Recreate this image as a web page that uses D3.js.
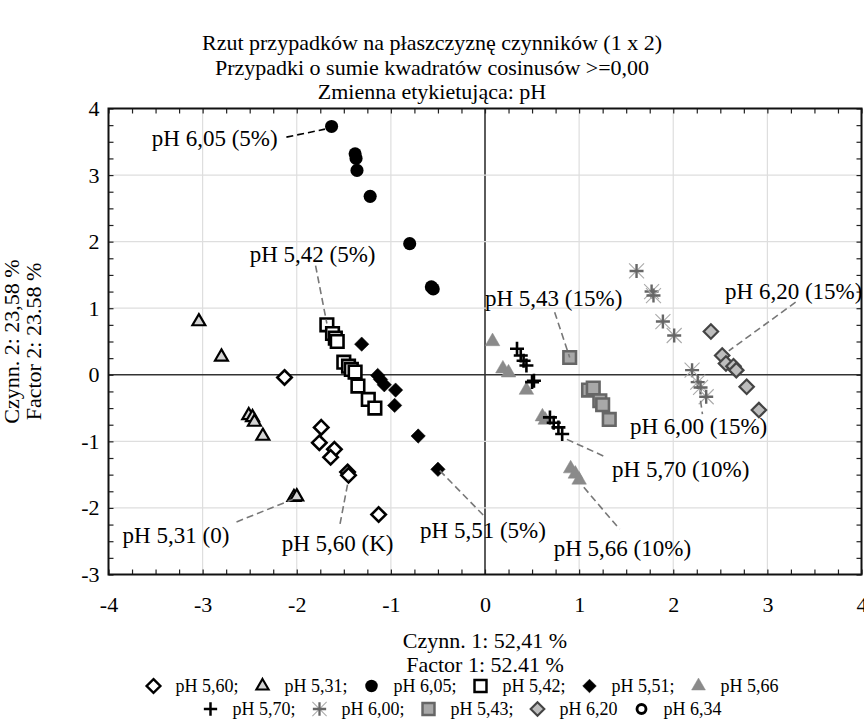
<!DOCTYPE html>
<html>
<head>
<meta charset="utf-8">
<script src="https://cdn.jsdelivr.net/npm/d3@7"></script>
<style>
  body { margin: 0; background: #fff; }
  svg text { font-family: "Liberation Serif", "Times New Roman", serif; fill: #000; }
</style>
</head>
<body>
<div class="chart"></div>
<script>
// factor scores: [factor 1, factor 2]
var ph560 = [[-2.13,-0.04],[-1.74,-0.79],[-1.76,-1.02],[-1.60,-1.12],[-1.64,-1.24],[-1.46,-1.46],[-1.45,-1.51],[-1.13,-2.10]];
var ph531 = [[-3.04,0.80],[-2.80,0.27],[-2.51,-0.61],[-2.47,-0.64],[-2.45,-0.71],[-2.36,-0.92],[-2.03,-1.84],[-2.00,-1.83]];
var ph605 = [[-1.63,3.73],[-1.38,3.32],[-1.37,3.25],[-1.36,3.07],[-1.22,2.68],[-0.80,1.97],[-0.57,1.32],[-0.55,1.29]];
var ph542 = [[-1.68,0.75],[-1.62,0.62],[-1.59,0.55],[-1.57,0.50],[-1.50,0.19],[-1.45,0.13],[-1.42,0.08],[-1.38,0.04],[-1.35,-0.17],[-1.24,-0.37],[-1.17,-0.50]];
var ph551 = [[-1.31,0.46],[-1.14,-0.01],[-1.11,-0.07],[-1.07,-0.15],[-0.95,-0.23],[-0.96,-0.46],[-0.71,-0.92],[-0.50,-1.42]];
var ph566 = [[0.08,0.50],[0.19,0.09],[0.25,0.03],[0.44,-0.23],[0.61,-0.63],[0.64,-0.68],[0.91,-1.41],[0.96,-1.49],[1.00,-1.58]];
var ph570 = [[0.34,0.39],[0.38,0.29],[0.41,0.21],[0.44,0.14],[0.50,-0.11],[0.52,-0.09],[0.69,-0.64],[0.73,-0.72],[0.78,-0.79],[0.82,-0.89]];
var ph600 = [[1.61,1.56],[1.77,1.25],[1.79,1.19],[1.89,0.80],[2.01,0.59],[2.20,0.07],[2.26,-0.11],[2.29,-0.19],[2.35,-0.33]];
var ph543 = [[0.90,0.26],[1.10,-0.23],[1.15,-0.20],[1.22,-0.39],[1.25,-0.45],[1.32,-0.67]];
var ph620 = [[2.40,0.65],[2.52,0.29],[2.56,0.17],[2.64,0.13],[2.67,0.07],[2.78,-0.18],[2.91,-0.53]];
var ph634 = [];

var seriesNames = ['pH 5,60', 'pH 5,31', 'pH 6,05', 'pH 5,42', 'pH 5,51', 'pH 5,66',
                   'pH 5,70', 'pH 6,00', 'pH 5,43', 'pH 6,20', 'pH 6,34'];
var seriesValues = [ph560, ph531, ph605, ph542, ph551, ph566, ph570, ph600, ph543, ph620, ph634];

var titleLines = ['Rzut przypadków na płaszczyznę czynników (1 x 2)',
                  'Przypadki o sumie kwadratów cosinusów >=0,00',
                  'Zmienna etykietująca: pH'];
var xTitle = ['Czynn. 1: 52,41 %', 'Factor 1: 52.41 %'];
var yTitle = ['Czynn. 2: 23,58 %', 'Factor 2: 23.58 %'];
var xTicks = d3.range(-4, 5),
    yTicks = d3.range(-3, 5);

// case labels, in factor units: text start, leader line from / to
var callouts = [
  { text: 'pH 6,05 (5%)',  at: [-3.54, 3.44],  from: [-2.11, 3.57],  to: [-1.70, 3.69], dark: true },
  { text: 'pH 5,42 (5%)',  at: [-2.50, 1.69],  from: [-1.80, 1.64],  to: [-1.68, 0.77] },
  { text: 'pH 5,31 (0)',   at: [-3.85, -2.52], from: [-2.64, -2.21], to: [-2.04, -1.87] },
  { text: 'pH 5,60 (K)',   at: [-2.16, -2.65], from: [-1.54, -2.24], to: [-1.45, -1.57] },
  { text: 'pH 5,51 (5%)',  at: [-0.69, -2.45], from: [-0.48, -1.44], to: [-0.01, -2.12] },
  { text: 'pH 5,66 (10%)', at: [0.73, -2.72],  from: [1.05, -1.69],  to: [1.43, -2.32] },
  { text: 'pH 5,70 (10%)', at: [1.35, -1.54],  from: [0.87, -0.97],  to: [1.29, -1.24] },
  { text: 'pH 6,00 (15%)', at: [1.54, -0.89],  from: [2.29, -0.39],  to: [2.31, -0.59] },
  { text: 'pH 5,43 (15%)', at: [0.00, 1.04],   from: [0.74, 0.94],   to: [0.90, 0.26] },
  { text: 'pH 6,20 (15%)', at: [2.55, 1.14],   from: [3.30, 1.09],   to: [2.59, 0.36] }
];

function init() {
  var width = 864,
      height = 727,
      plot = { x1: 108.5, y1: 108.5, x2: 861.5, y2: 574.5 },
      fontSize = 22,
      labelSize = 23;

  var x = d3.scaleLinear().domain([-4, 4]).range([plot.x1, plot.x2]),
      y = d3.scaleLinear().domain([-3, 4]).range([plot.y2, plot.y1]);

  // marker look for each series, same order as seriesNames
  var markers = [
    { shape: 'diamond',  fill: '#fff',    stroke: '#000',    sw: 2.6 },
    { shape: 'triangle', fill: '#d3d3d3', stroke: '#000',    sw: 2.2 },
    { shape: 'circle',   fill: '#000',    stroke: '#000',    sw: 0 },
    { shape: 'square',   fill: '#fff',    stroke: '#000',    sw: 2.6 },
    { shape: 'diamond',  fill: '#000',    stroke: '#000',    sw: 0.5 },
    { shape: 'triangle2', fill: '#8a8a8a', stroke: '#8a8a8a', sw: 0.5 },
    { shape: 'plus',     fill: 'none',    stroke: '#000',    sw: 2.6 },
    { shape: 'star',     fill: 'none',    stroke: '#666',    sw: 2.4 },
    { shape: 'square',   fill: '#a8a8a8', stroke: '#666',    sw: 2.6 },
    { shape: 'diamond',  fill: '#bdbdbd', stroke: '#444',    sw: 2.2 },
    { shape: 'ring',     fill: '#fff',    stroke: '#000',    sw: 3 }
  ];

  function symbolPath(shape) {
    if (shape === 'diamond') return 'M0,-7.2L7.2,0L0,7.2L-7.2,0Z';
    if (shape === 'triangle') return d3.symbol(d3.symbolTriangle, 72)();
    if (shape === 'triangle2') return d3.symbol(d3.symbolTriangle, 92)();
    if (shape === 'circle') return d3.symbol(d3.symbolCircle, 135)();
    if (shape === 'square') return 'M-6.3,-6.3H6.3V6.3H-6.3Z';
    if (shape === 'plus' || shape === 'star') return 'M-7,0H7M0,-7V7';
    if (shape === 'ring') return d3.symbol(d3.symbolCircle, 70)();
  }

  function drawMarker(sel, m) {
    if (m.shape === 'star') {
      sel.append('path')
          .attr('d', 'M-7.5,-7.5L7.5,7.5M-7.5,7.5L7.5,-7.5')
          .attr('fill', 'none')
          .attr('stroke', '#aaa')
          .attr('stroke-width', 1.1);
    }
    sel.append('path')
        .attr('d', symbolPath(m.shape))
        .attr('fill', m.fill)
        .attr('stroke', m.stroke)
        .attr('stroke-width', m.sw);
  }

  var svg = d3.select('.chart')
    .append('svg')
      .attr('width', width)
      .attr('height', height);

  svg.append('rect')
      .attr('width', width)
      .attr('height', height)
      .attr('fill', '#fff');

  // titles
  svg.selectAll('text.title').data(titleLines)
    .enter()
      .append('text')
        .attr('class', 'title')
        .attr('x', width / 2)
        .attr('y', function(d, i) { return 50 + i * 24.5; })
        .attr('text-anchor', 'middle')
        .style('font-size', fontSize + 'px')
        .text(function(d) { return d; });

  // grid
  svg.selectAll('line.gx').data(xTicks.slice(1, -1))
    .enter()
      .append('line')
        .attr('class', 'gx')
        .attr('x1', function(d) { return x(d); })
        .attr('x2', function(d) { return x(d); })
        .attr('y1', plot.y1)
        .attr('y2', plot.y2)
        .attr('stroke', function(d) { return d === 0 ? '#333' : '#dedede'; })
        .attr('stroke-width', function(d) { return d === 0 ? 1.6 : 1.2; });

  svg.selectAll('line.gy').data(yTicks.slice(1, -1))
    .enter()
      .append('line')
        .attr('class', 'gy')
        .attr('y1', function(d) { return y(d); })
        .attr('y2', function(d) { return y(d); })
        .attr('x1', plot.x1)
        .attr('x2', plot.x2)
        .attr('stroke', function(d) { return d === 0 ? '#333' : '#dedede'; })
        .attr('stroke-width', function(d) { return d === 0 ? 1.6 : 1.2; });

  // inward minor ticks on all four sides
  var xMinor = d3.range(-4, 4.001, 0.25),
      yMinor = d3.range(-3, 4.001, 0.25);
  var tickAxes = [
    { axis: d3.axisBottom(x).tickValues(xMinor), t: 'translate(0,' + plot.y2 + ')' },
    { axis: d3.axisTop(x).tickValues(xMinor),    t: 'translate(0,' + plot.y1 + ')' },
    { axis: d3.axisLeft(y).tickValues(yMinor),   t: 'translate(' + plot.x1 + ',0)' },
    { axis: d3.axisRight(y).tickValues(yMinor),  t: 'translate(' + plot.x2 + ',0)' }
  ];
  tickAxes.forEach(function(a) {
    var g = svg.append('g')
        .attr('transform', a.t)
        .call(a.axis.tickSize(-5).tickFormat(''));
    g.select('.domain').remove();
    g.selectAll('line').attr('stroke', '#222').attr('stroke-width', 1.2);
  });

  svg.append('rect')
      .attr('x', plot.x1)
      .attr('y', plot.y1)
      .attr('width', plot.x2 - plot.x1)
      .attr('height', plot.y2 - plot.y1)
      .attr('fill', 'none')
      .attr('stroke', '#111')
      .attr('stroke-width', 2);

  // tick labels
  var xLabels = svg.append('g')
      .attr('transform', 'translate(0,' + plot.y2 + ')')
      .call(d3.axisBottom(x).tickValues(xTicks).tickSize(0).tickPadding(22)
              .tickFormat(function(d) { return String(d); }));
  var yLabels = svg.append('g')
      .attr('transform', 'translate(' + plot.x1 + ',0)')
      .call(d3.axisLeft(y).tickValues(yTicks).tickSize(0).tickPadding(9)
              .tickFormat(function(d) { return String(d); }));
  [xLabels, yLabels].forEach(function(g) {
    g.select('.domain').remove();
    g.selectAll('text')
        .style('font-size', fontSize + 'px')
        .attr('fill', '#000');
  });

  // axis titles
  svg.selectAll('text.xtitle').data(xTitle)
    .enter()
      .append('text')
        .attr('class', 'xtitle')
        .attr('x', (plot.x1 + plot.x2) / 2)
        .attr('y', function(d, i) { return 648 + i * 24; })
        .attr('text-anchor', 'middle')
        .style('font-size', fontSize + 'px')
        .text(function(d) { return d; });

  svg.selectAll('text.ytitle').data(yTitle)
    .enter()
      .append('text')
        .attr('class', 'ytitle')
        .attr('transform', function(d, i) {
          return 'translate(' + (19 + i * 22) + ',' + (plot.y1 + plot.y2) / 2 + ') rotate(-90)';
        })
        .attr('text-anchor', 'middle')
        .style('font-size', fontSize + 'px')
        .text(function(d) { return d; });

  // points
  var series = svg.selectAll('g.series').data(seriesValues)
    .enter()
      .append('g')
        .attr('class', 'series');
  series.each(function(values, i) {
    var g = d3.select(this);
    g.selectAll('g.pt').data(values)
      .enter()
        .append('g')
          .attr('class', 'pt')
          .attr('transform', function(d) { return 'translate(' + x(d[0]) + ',' + y(d[1]) + ')'; })
          .each(function() { drawMarker(d3.select(this), markers[i]); });
  });

  // case labels with dashed leaders
  svg.selectAll('line.leader').data(callouts)
    .enter()
      .append('line')
        .attr('class', 'leader')
        .attr('x1', function(d) { return x(d.from[0]); })
        .attr('y1', function(d) { return y(d.from[1]); })
        .attr('x2', function(d) { return x(d.to[0]); })
        .attr('y2', function(d) { return y(d.to[1]); })
        .attr('stroke', function(d) { return d.dark ? '#000' : '#777'; })
        .attr('stroke-width', 1.6)
        .attr('stroke-dasharray', '7,4');

  svg.selectAll('text.callout').data(callouts)
    .enter()
      .append('text')
        .attr('class', 'callout')
        .attr('x', function(d) { return x(d.at[0]); })
        .attr('y', function(d) { return y(d.at[1]); })
        .style('font-size', labelSize + 'px')
        .text(function(d) { return d.text; });

  // legend, two centred rows
  var rows = [d3.range(0, 6), d3.range(6, 11)],
      legendSize = 18;
  rows.forEach(function(row, r) {
    var g = svg.append('g'),
        cursor = 0;
    row.forEach(function(k, j) {
      var sep = (j < row.length - 1 && k !== 9) ? ';' : '';
      var item = g.append('g').attr('transform', 'translate(' + cursor + ',0)');
      var mk = item.append('g').attr('transform', 'translate(0,' + (-6) + ') scale(0.95)');
      drawMarker(mk, markers[k]);
      var t = item.append('text')
          .attr('x', 22)
          .attr('y', 0)
          .style('font-size', legendSize + 'px')
          .text(seriesNames[k] + sep);
      cursor += 22 + t.node().getComputedTextLength() + 24;
    });
    var total = cursor - 24 + 8;
    g.attr('transform', 'translate(' + (462 - total / 2 + 8) + ',' + (692 + r * 23) + ')');
  });
}

d3.select(window).on('load', init);
</script>
</body>
</html>
